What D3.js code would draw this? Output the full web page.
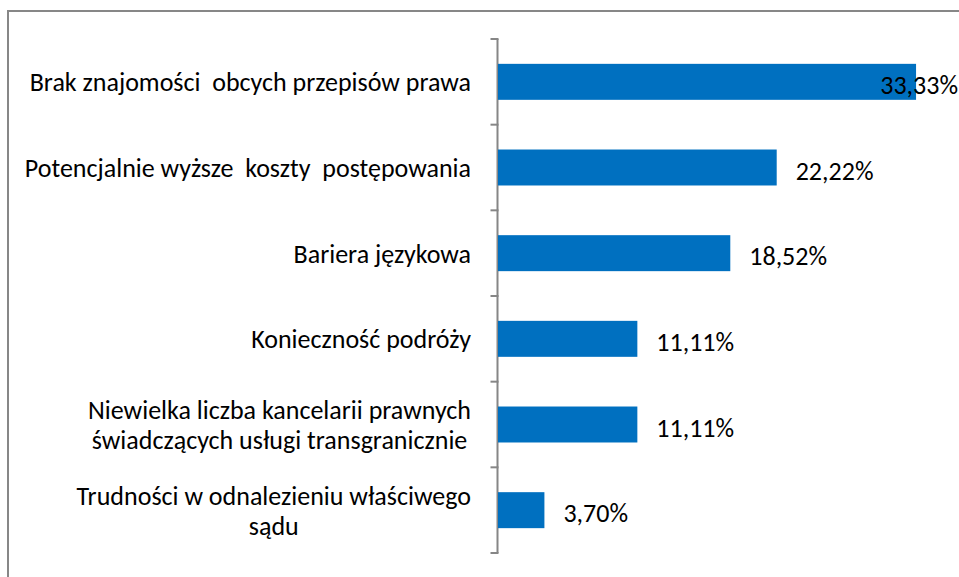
<!DOCTYPE html>
<html>
<head>
<meta charset="utf-8">
<script src="https://cdn.jsdelivr.net/npm/d3@7"></script>
<style>
  html, body { margin: 0; padding: 0; background: #fff; }
  svg { display: block; font-family: Carlito, Calibri, "Open Sans", sans-serif; }
  text { white-space: pre; }
</style>
</head>
<body>
<svg width="959" height="577"></svg>
<script>
'use strict'

const categories = [
  ['Brak znajomości  obcych przepisów prawa'],
  ['Potencjalnie wyższe  koszty  postępowania'],
  ['Bariera językowa'],
  ['Konieczność podróży'],
  ['Niewielka liczba kancelarii prawnych', 'świadczących usługi transgranicznie'],
  ['Trudności w odnalezieniu właściwego', 'sądu']
]
const values = [33.33, 22.22, 18.52, 11.11, 11.11, 3.70]
const valueLabels = ['33,33%', '22,22%', '18,52%', '11,11%', '11,11%', '3,70%']

const svg = d3.select('body svg')
const chartWidth = 959

// chart frame
svg.append('rect')
  .attr('x', 8).attr('y', 11)
  .attr('width', 1000).attr('height', 700)
  .attr('fill', 'none')
  .attr('stroke', '#878787')
  .attr('stroke-width', 2)

const axisX = 497.5
const yTop = 39
const yBottom = 553
const labelRight = 471

const yScale = d3.scaleBand()
  .domain(d3.range(categories.length))
  .range([yTop, yBottom])
  .paddingInner(0.58)
  .paddingOuter(0.29)

const xScale = d3.scaleLinear().domain([0, 35]).range([498, 937])

const step = (yBottom - yTop) / categories.length
const bounds = d3.range(categories.length + 1).map((i) => yTop + i * step)

// axis line and ticks
const axisG = svg.append('g').classed('yAxis', true)
axisG.append('line')
  .attr('x1', axisX).attr('x2', axisX)
  .attr('y1', yTop).attr('y2', yBottom)
  .style('stroke', '#868686').style('stroke-width', '2px')
axisG.selectAll('line.tick')
  .data(bounds)
  .enter()
  .append('line').classed('tick', true)
  .attr('x1', axisX - 7).attr('x2', axisX + 1)
  .attr('y1', (d) => d).attr('y2', (d) => d)
  .style('stroke', '#868686').style('stroke-width', '2px')

// bars
svg.selectAll('rect.bar')
  .data(values)
  .enter()
  .append('rect').classed('bar', true)
  .attr('x', xScale(0))
  .attr('y', (d, i) => yScale(i))
  .attr('width', (d) => xScale(d) - xScale(0))
  .attr('height', yScale.bandwidth())
  .style('fill', '#0070C0')

// category labels (lines centred within the block, block right-aligned)
const labels = svg.selectAll('text.cat')
  .data(categories)
  .enter()
  .append('text').classed('cat', true)
  .attr('text-anchor', 'middle')
  .style('font-size', '26px')
  .style('fill', '#000')
labels.each(function (lines, i) {
  const t = d3.select(this)
  const lh = 30
  const c = yTop + step * (i + 0.5)
  const spans = lines.map((line, j) => t.append('tspan')
    .attr('y', c + (j - (lines.length - 1) / 2) * lh + 9.5)
    .text(line))
  const w = d3.max(spans, (s) => s.node().getComputedTextLength())
  spans.forEach((s) => s.attr('x', labelRight - w / 2))
})

// value labels
svg.selectAll('text.val')
  .data(values)
  .enter()
  .append('text').classed('val', true)
  .style('font-size', '26px')
  .style('fill', '#000')
  .attr('y', (d, i) => yScale(i) + yScale.bandwidth() / 2 + 12)
  .text((d, i) => valueLabels[i])
  .attr('x', function (d) {
    const w = this.getComputedTextLength()
    return Math.min(xScale(d) + 19, chartWidth - 1 - w)
  })
</script>
</body>
</html>
